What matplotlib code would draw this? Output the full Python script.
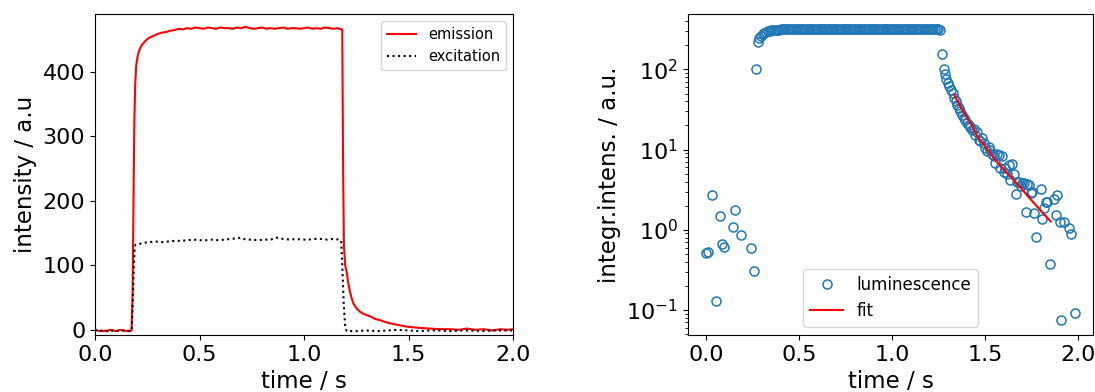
import matplotlib
matplotlib.use("Agg")
import matplotlib.pyplot as plt

# left panel: emission (red) and excitation (dotted) vs time
em_t = [0.000, 0.010, 0.020, 0.030, 0.040, 0.050, 0.060, 0.070, 0.080, 0.090,
        0.100, 0.110, 0.120, 0.130, 0.140, 0.150, 0.160, 0.170, 0.175, 0.180,
        0.184, 0.188, 0.192, 0.197, 0.203, 0.210, 0.220, 0.235, 0.250, 0.265,
        0.280, 0.300, 0.320, 0.340, 0.360, 0.380, 0.400, 0.420, 0.440, 0.460,
        0.480, 0.500, 0.520, 0.540, 0.560, 0.580, 0.600, 0.620, 0.640, 0.660,
        0.680, 0.700, 0.720, 0.740, 0.760, 0.780, 0.800, 0.820, 0.840, 0.860,
        0.880, 0.900, 0.920, 0.940, 0.960, 0.980, 1.000, 1.020, 1.040, 1.060,
        1.080, 1.100, 1.120, 1.140, 1.160, 1.180, 1.183, 1.187, 1.191, 1.197,
        1.204, 1.212, 1.220, 1.228, 1.236, 1.250, 1.268, 1.290, 1.316, 1.340,
        1.364, 1.390, 1.427, 1.460, 1.490, 1.520, 1.555, 1.600, 1.650, 1.700,
        1.740, 1.780, 1.820, 1.860, 1.900, 1.940, 1.970, 2.000]
em_v = [1, -1, -2, -1, -2, -1, -2, 0, -1, -1,
        -2, -1, 0, -1, -1, -2, -1, -2, -1, 60,
        200, 320, 380, 410, 423, 432, 440, 446, 451, 454,
        456, 459, 461, 462, 464, 465, 467, 466, 468, 467,
        469, 468, 467, 469, 468, 467, 469, 468, 468, 467,
        469, 468, 470, 468, 467, 468, 469, 467, 468, 467,
        468, 469, 467, 468, 468, 467, 468, 469, 467, 468,
        467, 469, 468, 467, 468, 466, 466, 250, 130, 100,
        90, 72, 59, 49, 41, 34, 28, 24, 21, 17,
        15, 12, 9, 7, 5, 4, 3, 2, 1, 1,
        0, 2, 0, 1, -1, 1, 0, 1]

ex_t = [0.000, 0.020, 0.040, 0.060, 0.080, 0.100, 0.120, 0.140, 0.160, 0.175,
        0.180, 0.186, 0.190, 0.195, 0.210, 0.230, 0.260, 0.290, 0.320, 0.350,
        0.380, 0.410, 0.440, 0.470, 0.500, 0.530, 0.560, 0.590, 0.620, 0.650,
        0.680, 0.700, 0.720, 0.750, 0.780, 0.810, 0.840, 0.870, 0.900, 0.930,
        0.960, 0.990, 1.020, 1.050, 1.080, 1.110, 1.140, 1.170, 1.178, 1.183,
        1.190, 1.197, 1.204, 1.250, 1.300, 1.350, 1.400, 1.450, 1.500, 1.550,
        1.600, 1.650, 1.700, 1.750, 1.800, 1.850, 1.900, 1.950, 2.000]
ex_v = [0, -2, -1, -2, -1, -2, -1, -1, -2, -1,
        40, 100, 130, 132, 133, 135, 136, 137, 136, 137,
        138, 138, 139, 140, 139, 139, 140, 139, 140, 141,
        142, 143, 140, 140, 139, 140, 140, 143, 141, 140,
        141, 140, 140, 141, 141, 140, 141, 140, 138, 100,
        40, 5, -2, -2, -1, -2, -1, 0, -1, -2,
        -1, -1, -2, -1, -1, -2, -1, -1, -1]

# right panel: integrated luminescence (log scale) and fit
lum_t = [0.000, 0.009, 0.032, 0.051, 0.071, 0.083, 0.093, 0.143, 0.155, 0.186,
         0.238, 0.258, 0.268, 0.276, 0.285, 0.294, 0.303, 0.312, 0.321, 0.330,
         0.340, 0.350, 0.360, 0.370, 0.380, 0.390, 0.400,
         0.41, 0.42, 0.43, 0.44, 0.45, 0.46, 0.47, 0.48, 0.49, 0.50,
         0.51, 0.52, 0.53, 0.54, 0.55, 0.56, 0.57, 0.58, 0.59, 0.60,
         0.61, 0.62, 0.63, 0.64, 0.65, 0.66, 0.67, 0.68, 0.69, 0.70,
         0.71, 0.72, 0.73, 0.74, 0.75, 0.76, 0.77, 0.78, 0.79, 0.80,
         0.81, 0.82, 0.83, 0.84, 0.85, 0.86, 0.87, 0.88, 0.89, 0.90,
         0.91, 0.92, 0.93, 0.94, 0.95, 0.96, 0.97, 0.98, 0.99, 1.00,
         1.01, 1.02, 1.03, 1.04, 1.05, 1.06, 1.07, 1.08, 1.09, 1.10,
         1.11, 1.12, 1.13, 1.14, 1.15, 1.16, 1.17, 1.18, 1.19, 1.20,
         1.21, 1.22, 1.23, 1.24, 1.25, 1.26,
         1.270, 1.278, 1.286, 1.292, 1.299, 1.308, 1.317, 1.326, 1.335, 1.344,
         1.350, 1.359, 1.368, 1.377, 1.386, 1.395, 1.404, 1.413, 1.422, 1.431,
         1.440, 1.449, 1.458, 1.467, 1.476, 1.485, 1.494, 1.503, 1.512, 1.521,
         1.530, 1.539, 1.548, 1.557, 1.566, 1.575, 1.584, 1.593, 1.602, 1.611,
         1.620, 1.629, 1.638, 1.647, 1.656, 1.665, 1.674, 1.683, 1.692, 1.701,
         1.710, 1.719, 1.728, 1.737, 1.746, 1.755, 1.764, 1.778, 1.800, 1.809,
         1.818, 1.827, 1.836, 1.851, 1.872, 1.881, 1.890, 1.905, 1.912, 1.926,
         1.953, 1.962, 1.984]
lum_v = [0.52, 0.53, 2.74, 0.131, 1.48, 0.67, 0.61, 1.09, 1.75, 0.87,
         0.59, 0.31, 100, 222, 244, 262, 276, 285, 293, 299,
         304, 307, 310, 312, 314, 315, 316,
         317, 317, 318, 318, 319, 318, 319, 320, 319, 320,
         320, 321, 320, 321, 321, 322, 321, 322, 322, 321,
         322, 323, 322, 323, 322, 323, 323, 324, 323, 323,
         324, 323, 324, 323, 324, 324, 323, 324, 323, 324,
         323, 324, 323, 323, 324, 323, 323, 322, 323, 322,
         323, 322, 322, 321, 322, 321, 322, 321, 321, 320,
         321, 320, 320, 321, 320, 319, 320, 319, 320, 319,
         319, 318, 319, 318, 318, 319, 318, 317, 318, 317,
         317, 316, 317, 316, 316, 314,
         158, 102, 87, 76, 68, 62, 56, 51, 44, 40,
         36.5, 33, 30, 27.4, 24.9, 23.7, 21.5, 20.5, 19, 17.4,
         18.2, 15.4, 16.5, 13.3, 12.7, 13.8, 12, 10.5, 9.5, 10.8,
         10, 8.8, 8.3, 6.8, 8.9, 8.6, 5.9, 8.3, 5.3, 5.9,
         4.9, 6.5, 4.2, 6.6, 4.9, 2.8, 4.0, 4.0, 3.5, 3.8,
         3.8, 1.65, 3.7, 3.65, 2.9, 2.95, 1.62, 0.81, 3.25, 1.38,
         1.86, 2.2, 2.25, 0.376, 2.4, 1.54, 2.75, 1.24, 0.074, 1.26,
         1.05, 0.89, 0.091]

fit_t = [1.335, 1.360, 1.380, 1.400, 1.430, 1.460, 1.500, 1.550, 1.600, 1.650,
         1.700, 1.750, 1.800, 1.855]
fit_v = [48, 37.5, 31, 26, 20, 14.5, 11.2, 7.7, 5.7, 4.3,
         3.2, 2.35, 1.75, 1.27]

fig = plt.figure(figsize=(10.95, 3.92), dpi=100)

ax1 = fig.add_axes([0.0868, 0.1454, 0.3817, 0.819])
ax1.plot(em_t, em_v, color='red', lw=1.5, label='emission')
ax1.plot(ex_t, ex_v, color='black', ls=':', lw=1.5, label='excitation')
ax1.set_xlim(0, 2)
ax1.set_ylim(-8, 490)
ax1.set_xticks([0.0, 0.5, 1.0, 1.5, 2.0])
ax1.set_yticks([0, 100, 200, 300, 400])
ax1.set_xlabel('time / s', fontsize=16.5)
ax1.set_ylabel('intensity / a.u', fontsize=16.5)
ax1.tick_params(labelsize=16)
ax1.legend(loc='upper right', fontsize=10.5)

ax2 = fig.add_axes([0.6283, 0.1454, 0.370, 0.819])
ax2.plot(lum_t, lum_v, 'o', mfc='none', mec='tab:blue', ms=6.5, mew=1.1,
         label='luminescence')
ax2.plot(fit_t, fit_v, color='red', lw=1.5, label='fit')
ax2.set_yscale('log')
ax2.set_xticks([0.0, 0.5, 1.0, 1.5, 2.0])
ax2.set_xlabel('time / s', fontsize=16.5)
ax2.set_ylabel('integr.intens. / a.u.', fontsize=16.5)
ax2.tick_params(labelsize=16)
ax2.legend(loc='lower center', fontsize=12)

fig.savefig('out.png', dpi=100)
